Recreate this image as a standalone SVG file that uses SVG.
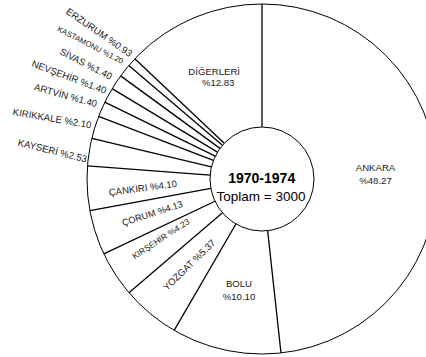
<svg xmlns="http://www.w3.org/2000/svg" width="426" height="357" viewBox="0 0 426 357">
<style>
.lbl{font-family:"Liberation Sans",Arial,sans-serif;font-size:9.6px;fill:#1a1a1a}
.sm{font-size:7.8px}
.md{font-size:8.5px}
.c9{font-size:9.2px}
.div{stroke:#000;stroke-width:1.3;fill:none}
.ring{stroke:#000;stroke-width:1;fill:#fff}
</style>
<rect width="426" height="357" fill="#fff"/>
<circle id="outer" class="ring" cx="262" cy="179" r="175"/>
<g id="connectors">
<line class="div" x1="262" y1="127" x2="262" y2="4"/>
<line class="div" x1="267.64" y1="230.69" x2="280.99" y2="352.97"/>
<line class="div" x1="235.90" y1="223.97" x2="174.15" y2="330.36"/>
<line class="div" x1="222.47" y1="212.79" x2="128.98" y2="292.72"/>
<line class="div" x1="214.99" y1="201.23" x2="103.80" y2="253.81"/>
<line class="div" x1="210.86" y1="188.42" x2="89.90" y2="210.71"/>
<line class="div" x1="210.15" y1="175.08" x2="87.50" y2="165.82"/>
<line class="div" x1="211.42" y1="166.92" x2="91.78" y2="138.35"/>
<line class="div" x1="213.45" y1="160.37" x2="98.61" y2="116.32"/>
<line class="div" x1="215.27" y1="156.18" x2="104.75" y2="102.20"/>
<line class="div" x1="217.46" y1="152.16" x2="112.11" y2="88.68"/>
<line class="div" x1="219.99" y1="148.35" x2="120.63" y2="75.86"/>
<line class="div" x1="222.42" y1="145.28" x2="128.79" y2="65.51"/>
<line class="div" x1="224.22" y1="143.27" x2="134.86" y2="58.74"/>
</g>
<g id="ankara"><text class="lbl" text-anchor="middle" x="375.5" y="171.3">ANKARA</text><text class="lbl" text-anchor="middle" x="375.5" y="184.3">%48.27</text></g>
<g id="bolu"><text class="lbl" text-anchor="middle" x="239" y="287.3">BOLU</text><text class="lbl" text-anchor="middle" x="239" y="300.3">%10.10</text></g>
<g id="digerleri"><text class="lbl" text-anchor="middle" x="214.2" y="75.3">DİĞERLERİ</text><text class="lbl" text-anchor="middle" x="218.2" y="85.5">%12.83</text></g>
<g id="yozgat"><text class="lbl" text-anchor="middle" transform="translate(191.5,267.4) rotate(-44)">YOZGAT %5.37</text></g>
<g id="kirsehir"><text class="lbl md" text-anchor="middle" transform="translate(162.5,241.3) rotate(-33.2)">KIRŞEHİR %4.23</text></g>
<g id="corum"><text class="lbl c9" text-anchor="middle" transform="translate(153.3,216.3) rotate(-17.8)">ÇORUM %4.13</text></g>
<g id="cankiri"><text class="lbl" text-anchor="middle" transform="translate(143.3,191.3) rotate(-7.6)">ÇANKIRI %4.10</text></g>
<g id="kayseri"><text class="lbl" text-anchor="end" transform="translate(86,162.5) rotate(14)">KAYSERİ %2.53</text></g>
<g id="kirikkale"><text class="lbl" text-anchor="end" transform="translate(90.7,128.3) rotate(9.7)">KIRIKKALE %2.10</text></g>
<g id="artvin"><text class="lbl" text-anchor="end" transform="translate(96,107.3) rotate(15.6)">ARTVİN %1.40</text></g>
<g id="nevsehir"><text class="lbl" text-anchor="end" transform="translate(105,94) rotate(20.6)">NEVŞEHİR %1.40</text></g>
<g id="sivas"><text class="lbl" text-anchor="end" transform="translate(110,80) rotate(27.2)">SİVAS %1.40</text></g>
<g id="kastamonu"><text class="lbl sm" text-anchor="end" transform="translate(121.7,64) rotate(27.1)">KASTAMONU %1.20</text></g>
<g id="erzurum"><text class="lbl" text-anchor="end" transform="translate(129.3,57.3) rotate(34.7)">ERZURUM %0.93</text></g>
<g id="center">
<circle class="ring" cx="262" cy="179" r="52"/>
<text x="261.7" y="183.3" text-anchor="middle" style="font-family:'Liberation Sans',Arial,sans-serif;font-size:14px;font-weight:bold;fill:#000">1970-1974</text>
<text x="261" y="200.7" text-anchor="middle" style="font-family:'Liberation Sans',Arial,sans-serif;font-size:13.5px;fill:#000">Toplam = 3000</text>
</g>
</svg>
